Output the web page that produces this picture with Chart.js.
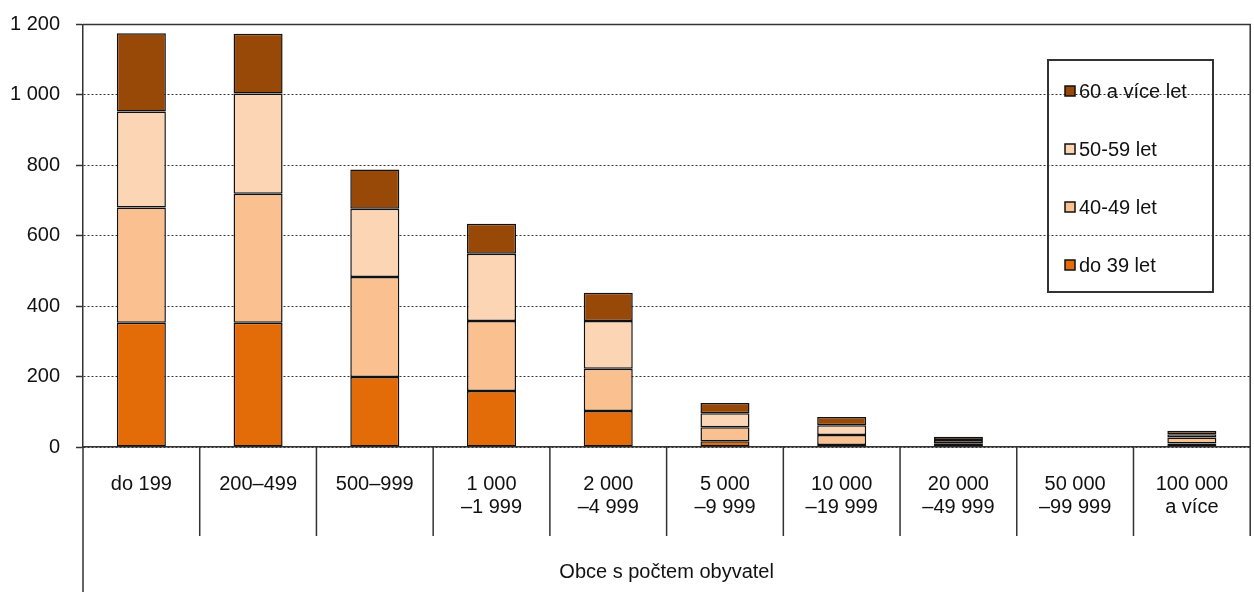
<!DOCTYPE html>
<html>
<head>
<meta charset="utf-8">
<script src="https://cdn.jsdelivr.net/npm/chart.js@4.4.0/dist/chart.umd.min.js"></script>
<style>
	html, body { margin: 0; padding: 0; background: #fff; }
	#wrap { width: 1254px; height: 592px; }
</style>
</head>
<body>
<div id="wrap"><canvas id="graf"></canvas></div>
<script>
var kategorie = [
	'do 199', '200\u2013499', '500\u2013999',
	['1\u00a0000', '\u20131\u00a0999'], ['2\u00a0000', '\u20134\u00a0999'],
	['5\u00a0000', '\u20139\u00a0999'], ['10\u00a0000', '\u201319\u00a0999'],
	['20\u00a0000', '\u201349\u00a0999'], ['50\u00a0000', '\u201399\u00a0999'],
	['100\u00a0000', 'a více']
];
var do39  = [353, 353, 199, 159, 102, 16, 6, 3, 0, 10];
var s4049 = [327, 366, 284, 199, 120, 40, 28, 8, 0, 17];
var s5059 = [273, 285, 194, 191, 136, 40, 28, 9, 0, 9];
var s60   = [222, 170, 111, 85, 80, 29, 23, 9, 0, 10];
var yTicks = [0, 200, 400, 600, 800, 1000, 1200];
var osaX = 'Obce s počtem obyvatel';

var pismo = 'Liberation Sans, Arial, sans-serif';

// ramecek grafu, oddelovace kategorii a legenda
var doplnky = {
	id: 'doplnky',
	afterDraw: function(chart){
		var ctx = chart.ctx;
		var a = chart.chartArea;
		var sx = chart.scales.x;
		var krok = sx.getPixelForValue(1) - sx.getPixelForValue(0);
		ctx.save();
		ctx.strokeStyle = '#333';
		ctx.lineWidth = 1.5;
		ctx.beginPath();
		ctx.moveTo(a.left, a.top); ctx.lineTo(a.right, a.top); ctx.lineTo(a.right, a.bottom);
		for (var i = 0; i <= kategorie.length; i++) {
			var x = sx.getPixelForValue(i) - krok / 2;
			ctx.moveTo(x, a.bottom);
			ctx.lineTo(x, i == 0 ? chart.height : a.bottom + 89);
		}
		ctx.stroke();

		// legenda
		var lx = 1048, ly = 60, lw = 165, lh = 232;
		ctx.strokeStyle = '#333';
		ctx.lineWidth = 2;
		ctx.strokeRect(lx, ly, lw, lh);
		ctx.font = '20px ' + pismo;
		ctx.textBaseline = 'middle';
		ctx.textAlign = 'left';
		var ds = chart.data.datasets.slice().reverse();
		for (var j = 0; j < ds.length; j++) {
			var yy = ly + 31 + j * 58;
			ctx.fillStyle = ds[j].backgroundColor;
			ctx.fillRect(lx + 17, yy - 5, 10, 10);
			ctx.lineWidth = 1.5;
			ctx.strokeStyle = '#111';
			ctx.strokeRect(lx + 17, yy - 5, 10, 10);
			ctx.fillStyle = '#111';
			ctx.fillText(ds[j].label, lx + 31, yy + 1);
		}
		ctx.restore();
	}
};

var ctx = document.getElementById('graf');
var graf = new Chart(ctx, {
	type: 'bar',
	data: {
		labels: kategorie,
		datasets: [
			{ label: 'do 39 let', data: do39, backgroundColor: '#E36C09' },
			{ label: '40-49 let', data: s4049, backgroundColor: '#FAC090' },
			{ label: '50-59 let', data: s5059, backgroundColor: '#FCD5B5' },
			{ label: '60 a více let', data: s60, backgroundColor: '#984807' }
		]
	},
	options: {
		responsive: true,
		maintainAspectRatio: false,
		animation: false,
		devicePixelRatio: 1,
		layout: { padding: { top: 4, right: -7, left: 8, bottom: 0 } },
		datasets: {
			bar: {
				borderColor: '#111',
				borderWidth: 1.5,
				borderSkipped: false,
				barPercentage: 0.42,
				categoryPercentage: 1
			}
		},
		plugins: {
			legend: { display: false },
			tooltip: { enabled: false }
		},
		scales: {
			x: {
				stacked: true,
				grid: { display: false, drawTicks: false },
				border: { display: true, color: '#333', width: 1.5 },
				ticks: {
					color: '#111',
					font: { family: pismo, size: 20, lineHeight: 1.15 },
					padding: 26,
					maxRotation: 0,
					autoSkip: false
				},
				title: {
					display: true,
					text: osaX,
					color: '#111',
					font: { family: pismo, size: 20, lineHeight: 1.15 },
					padding: { top: 16, bottom: 8 }
				}
			},
			y: {
				stacked: true,
				min: 0,
				max: 1200,
				afterFit: function(axis){ axis.width = 75; },
				afterBuildTicks: function(axis){
					axis.ticks = yTicks.map(function(v){ return { value: v }; });
				},
				grid: {
					color: '#333',
					lineWidth: 1,
					drawTicks: true,
					tickLength: 7,
					tickColor: '#333',
					tickWidth: 1.5
				},
				border: { display: true, color: '#333', width: 1.5, dash: [2, 2] },
				ticks: {
					color: '#111',
					font: { family: pismo, size: 20, lineHeight: 0.85 },
					padding: 16,
					callback: function(v){
						return String(v).replace(/\B(?=(\d{3})+(?!\d))/g, '\u00a0');
					}
				}
			}
		}
	},
	plugins: [doplnky]
});
</script>
</body>
</html>
